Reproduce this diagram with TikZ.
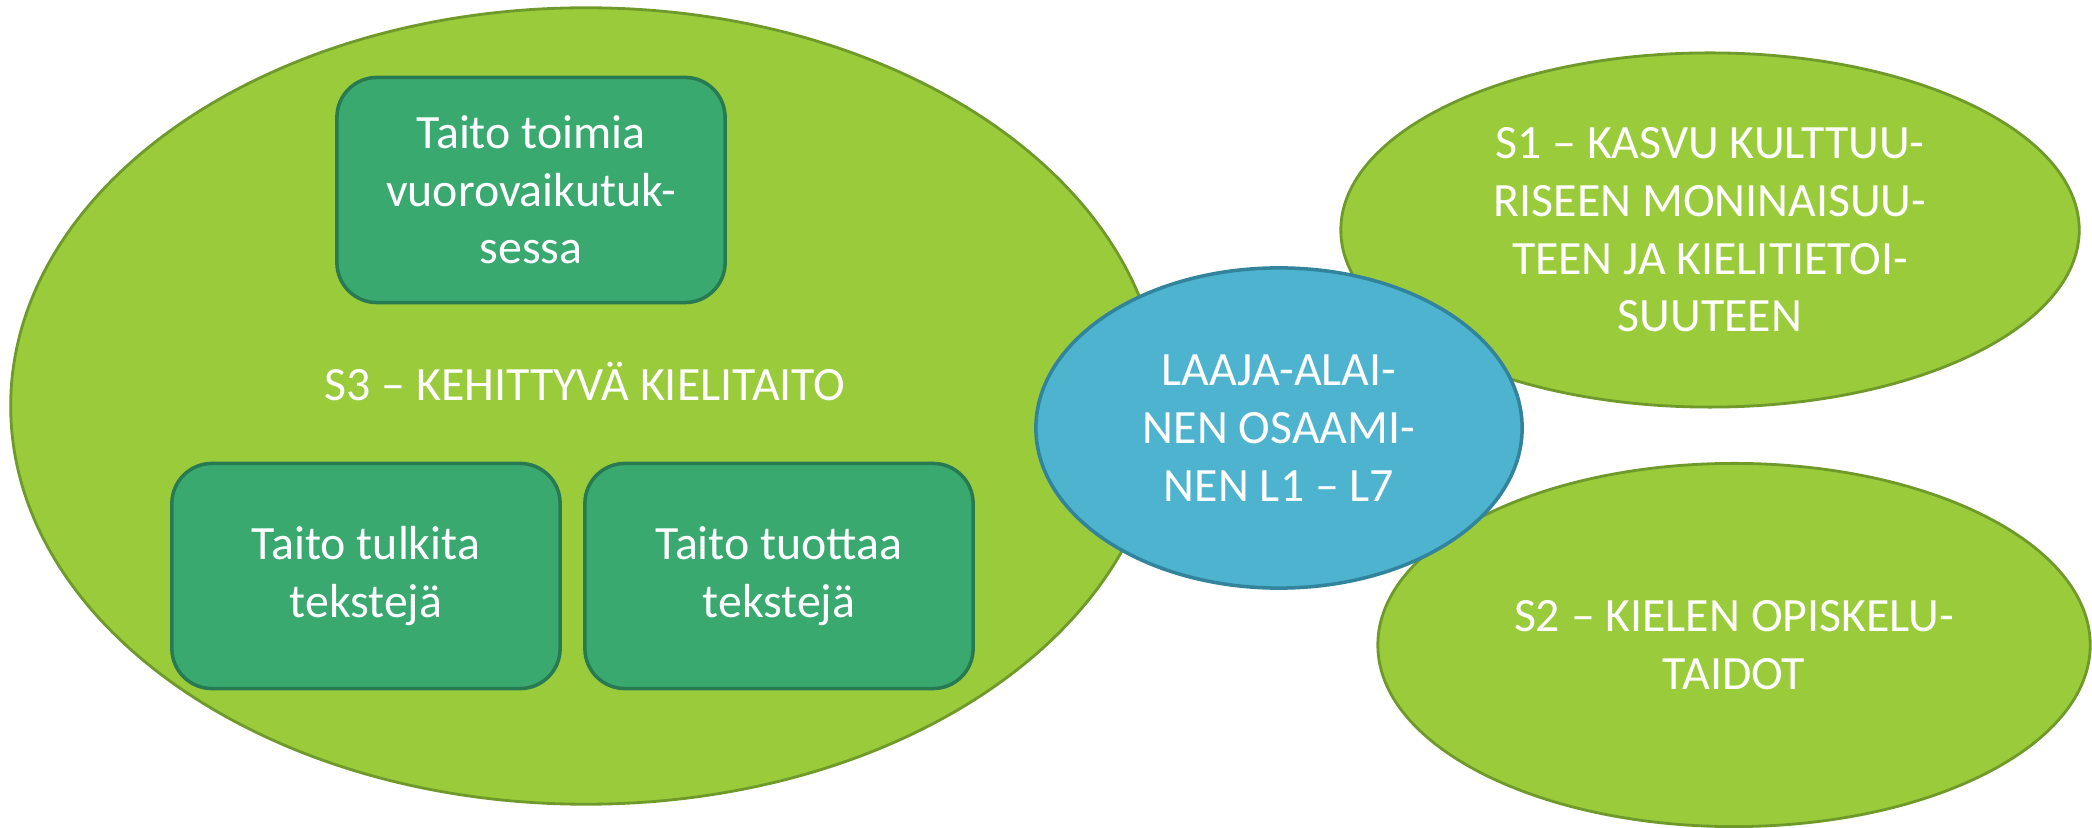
\documentclass[tikz,border=0pt]{standalone}
\usepackage{fontspec}
\setmainfont{Carlito}
\usetikzlibrary{shapes.geometric}
\definecolor{areafill}{HTML}{9ACB3A}
\definecolor{areaedge}{HTML}{6F9A2B}
\definecolor{skillfill}{HTML}{3AA970}
\definecolor{skilledge}{HTML}{287A52}
\definecolor{wholefill}{HTML}{4EB3CF}
\definecolor{wholeedge}{HTML}{31849B}

\begin{document}
\begin{tikzpicture}[x=0.01cm, y=-0.01cm,
    every node/.style={text=white, align=center, font=\fontsize{13.6}{16.4}\selectfont},
    area/.style={ellipse, draw=areaedge, fill=areafill, line width=0.8pt, inner sep=0pt},
    skill/.style={rectangle, rounded corners=0.4cm, draw=skilledge, fill=skillfill, line width=1pt,
        minimum width=3.88cm, minimum height=2.25cm, inner sep=0pt},
    whole/.style={ellipse, draw=wholeedge, fill=wholefill, line width=1pt, inner sep=0pt,
        minimum width=4.86cm, minimum height=3.2cm},
]
    \useasboundingbox (0,0) rectangle (2092,828);

    \node [area, minimum width=11.5cm, minimum height=7.96cm] (s3) at (586,406) {};
    \node [skill] (toimia) at (531,190) {Taito toimia\\vuorovaikutuk-\\sessa};
    \node (s3text) at (585,381) {S3 – KEHITTYVÄ KIELITAITO};
    \node [skill] (tulkita) at (366,576) {Taito tulkita\\tekstejä};
    \node [skill] (tuottaa) at (779,576) {Taito tuottaa\\tekstejä};

    \node [area, minimum width=7.38cm, minimum height=3.54cm] (s1) at (1710,230)
        {S1 – KASVU KULTTUU-\\RISEEN MONINAISUU-\\TEEN JA KIELITIETOI-\\SUUTEEN};
    \node [area, minimum width=7.12cm, minimum height=3.63cm] (s2) at (1734,645)
        {S2 – KIELEN OPISKELU-\\TAIDOT};

    \node [whole] (laaja) at (1279,428) {LAAJA-ALAI-\\NEN OSAAMI-\\NEN L1 – L7};
\end{tikzpicture}
\end{document}
